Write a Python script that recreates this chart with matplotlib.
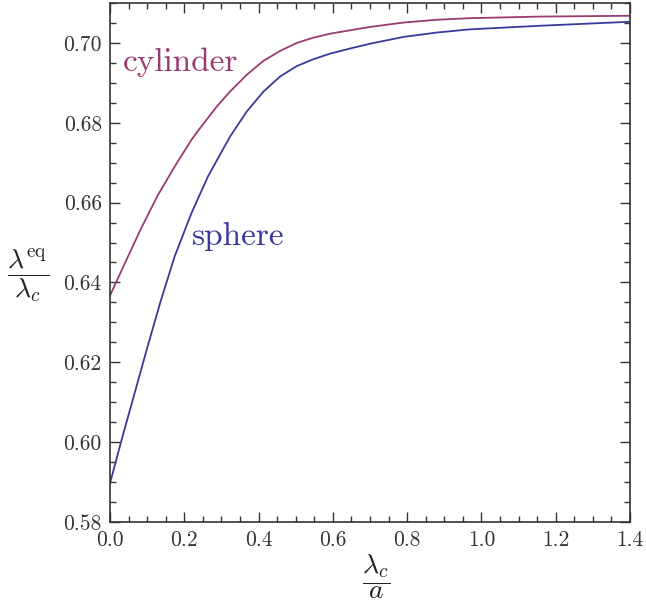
import numpy as np
import matplotlib
matplotlib.use('Agg')
import matplotlib.pyplot as plt
from matplotlib.ticker import MultipleLocator

plt.rcParams['font.family'] = 'serif'
plt.rcParams['font.serif'] = ['cmr10']
plt.rcParams['mathtext.fontset'] = 'cm'
plt.rcParams['axes.formatter.use_mathtext'] = True

# --- values
x_cyl = [0.0, 0.040, 0.084, 0.129, 0.174, 0.219, 0.242, 0.287, 0.323, 0.368, 0.413,
         0.458, 0.503, 0.547, 0.592, 0.642, 0.700, 0.790, 0.880, 0.969, 1.158, 1.4]
y_cyl = [0.6367, 0.6448, 0.6536, 0.6619, 0.6690, 0.6757, 0.6786, 0.6840, 0.6878, 0.6920, 0.6955,
         0.6980, 0.7000, 0.7013, 0.7023, 0.7031, 0.7040, 0.7051, 0.7058, 0.7062, 0.7066, 0.7068]

x_sph = [0.0, 0.031, 0.066, 0.102, 0.136, 0.174, 0.219, 0.264, 0.323, 0.368, 0.413,
         0.458, 0.503, 0.547, 0.592, 0.642, 0.700, 0.790, 0.880, 0.969, 1.158, 1.4]
y_sph = [0.5897, 0.6005, 0.6122, 0.6242, 0.6352, 0.6465, 0.6573, 0.6666, 0.6765, 0.6828, 0.6878,
         0.6916, 0.6942, 0.6959, 0.6973, 0.6985, 0.6998, 0.7015, 0.7026, 0.7034, 0.7043, 0.7053]

c_cyl = '#9a3b72'
c_sph = '#3a3a9c'
c_ax = '#333333'

fig = plt.figure(figsize=(6.46, 6.12), dpi=100)
ax = fig.add_axes([110/646, 1-522/612, 520/646, 519/612])

ax.plot(x_cyl, y_cyl, '-', c=c_cyl, lw=1.3)
ax.plot(x_sph, y_sph, '-', c=c_sph, lw=1.3)

ax.set_xlim(0, 1.4)
ax.set_ylim(0.58, 0.71)
ax.xaxis.set_major_locator(MultipleLocator(0.2))
ax.xaxis.set_minor_locator(MultipleLocator(0.05))
ax.yaxis.set_major_locator(MultipleLocator(0.02))
ax.yaxis.set_minor_locator(MultipleLocator(0.005))
ax.xaxis.set_major_formatter(lambda v, p: '{:.1f}'.format(v))
ax.yaxis.set_major_formatter(lambda v, p: '{:.2f}'.format(v))

ax.tick_params(direction='in', top=True, right=True, which='both', colors=c_ax, labelsize=15.5)
ax.tick_params(which='major', length=7, width=1.0, pad=6)
ax.tick_params(which='minor', length=4, width=1.0)
for s in ax.spines.values():
    s.set_color(c_ax)
    s.set_linewidth(1.2)

ax.text(0.035, 0.6952, 'cylinder', color=c_cyl, fontsize=24, va='center', ha='left')
ax.text(0.22, 0.6514, 'sphere', color=c_sph, fontsize=24, va='center', ha='left')

fig.text(28/646, 1-275/612, r'$\dfrac{\lambda^{\rm eq}}{\lambda_c}$', fontsize=20, ha='center', va='center', color='#222222')
fig.text(376/646, 1-577/612, r'$\dfrac{\lambda_c}{a}$', fontsize=20, ha='center', va='center', color='#222222')

fig.savefig('out.png', dpi=100)
